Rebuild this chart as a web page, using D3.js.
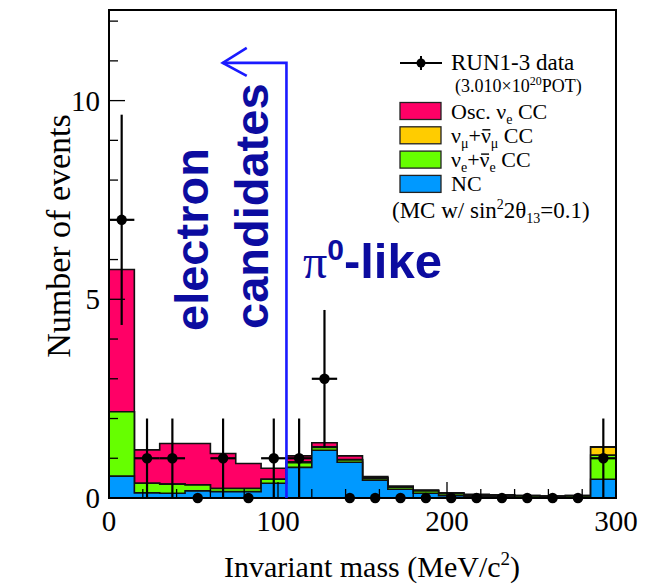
<!DOCTYPE html>
<html>
<head>
<meta charset="utf-8">
<script src="https://cdn.jsdelivr.net/npm/d3@7"></script>
<style>
  body { margin: 0; background: #fff; }
  svg { display: block; }
</style>
</head>
<body>
<svg id="chart" width="653" height="584"></svg>
<script>
// Invariant-mass bins (MeV/c^2), 15 MeV wide, last bin collects overflow
const binEdges = [0, 15, 30, 45, 60, 75, 90, 105, 120, 135, 150, 165, 180, 195, 210, 225, 240, 255, 270, 285, 300];

// Observed events per bin
const dataCounts = [7, 1, 1, 0, 1, 0, 1, 1, 3, 0, 0, 0, 0, 0, 0, 0, 0, 0, 0, 1];

// MC expectation per component (stacked bottom to top: NC, nue+nuebar CC, numu+numubar CC, oscillated nue CC)
const mcNC      = [0.55, 0.13, 0.12, 0.18, 0.16, 0.16, 0.37, 0.77, 1.20, 0.90, 0.45, 0.22, 0.12, 0.06, 0.04, 0.03, 0.02, 0.02, 0.02, 0.47];
const mcNueBeam = [1.62, 0.24, 0.23, 0.15, 0.08, 0.08, 0.10, 0.12, 0.07, 0.06, 0.05, 0.05, 0.06, 0.05, 0.03, 0.03, 0.03, 0.02, 0.03, 0.61];
const mcNumu    = [0.00, 0.00, 0.00, 0.00, 0.00, 0.00, 0.00, 0.02, 0.02, 0.01, 0.01, 0.01, 0.01, 0.01, 0.01, 0.01, 0.01, 0.01, 0.01, 0.20];
const mcOscNue  = [3.58, 0.84, 1.02, 1.04, 0.88, 0.63, 0.28, 0.15, 0.10, 0.09, 0.03, 0.02, 0.01, 0.01, 0.01, 0.01, 0.00, 0.00, 0.00, 0.01];

// Axis ticks
const yMajorTicks = [0, 5, 10];
const yMinorTicks = [1, 2, 3, 4, 6, 7, 8, 9, 11, 12];
const xMajorTicks = [0, 100, 200, 300];
const xMinorTicks = [20, 40, 60, 80, 120, 140, 160, 180, 220, 240, 260, 280];

// Selection cut and legend entries
const cutMass = 105;
const legendEntries = [
  { color: "#ff0066", parts: [["Osc. "], ["ν"], ["e", "sub"], [" CC"]] },
  { color: "#ffcc00", parts: [["ν"], ["μ", "sub"], ["+"], ["ν", "bar"], ["μ", "sub"], [" CC"]] },
  { color: "#66ff00", parts: [["ν"], ["e", "sub"], ["+"], ["ν", "bar"], ["e", "sub"], [" CC"]] },
  { color: "#0099ff", parts: [["NC"]] }
];

const svg = d3.select("#chart");
const serif = "'Liberation Serif', 'Times New Roman', serif";
const sans = "'Liberation Sans', Arial, Helvetica, sans-serif";

const x = d3.scaleLinear().domain([0, 300]).range([109, 616]);
const y = d3.scaleLinear().domain([0, 12.28]).range([498, 10]);

// Cumulative stack layers
const layers = [mcNC, mcNueBeam, mcNumu, mcOscNue];
const layerColors = ["#0099ff", "#66ff00", "#ffcc00", "#ff0066"];
const cumulative = [];
let running = binEdges.slice(1).map(() => 0);
layers.forEach(vals => {
  running = running.map((r, i) => r + vals[i]);
  cumulative.push(running.slice());
});

function stepPath(tops) {
  const p = d3.path();
  p.moveTo(x(binEdges[0]), y(0));
  tops.forEach((t, i) => {
    p.lineTo(x(binEdges[i]), y(t));
    p.lineTo(x(binEdges[i + 1]), y(t));
  });
  p.lineTo(x(binEdges[binEdges.length - 1]), y(0));
  p.closePath();
  return p.toString();
}

// Draw from the tallest cumulative layer down
const histG = svg.append("g");
for (let k = cumulative.length - 1; k >= 0; k--) {
  histG.append("path")
    .attr("d", stepPath(cumulative[k]))
    .attr("fill", layerColors[k])
    .attr("stroke", "#111")
    .attr("stroke-width", 1.6)
    .attr("stroke-linejoin", "miter");
}

// Frame and axes
const axG = svg.append("g");
axG.append("rect")
  .attr("x", x(0)).attr("y", y.range()[1])
  .attr("width", x(300) - x(0)).attr("height", y(0) - y.range()[1])
  .attr("fill", "none").attr("stroke", "#000").attr("stroke-width", 2);

yMajorTicks.forEach(v => axG.append("line").attr("x1", x(0)).attr("x2", x(0) + 16).attr("y1", y(v)).attr("y2", y(v)).attr("stroke", "#000").attr("stroke-width", 1.3));
yMinorTicks.forEach(v => axG.append("line").attr("x1", x(0)).attr("x2", x(0) + 9).attr("y1", y(v)).attr("y2", y(v)).attr("stroke", "#000").attr("stroke-width", 1.3));
xMajorTicks.forEach(v => axG.append("line").attr("x1", x(v)).attr("x2", x(v)).attr("y1", y(0)).attr("y2", y(0) - 16).attr("stroke", "#000").attr("stroke-width", 1.3));
xMinorTicks.forEach(v => axG.append("line").attr("x1", x(v)).attr("x2", x(v)).attr("y1", y(0)).attr("y2", y(0) - 9).attr("stroke", "#000").attr("stroke-width", 1.3));

yMajorTicks.forEach(v => axG.append("text")
  .attr("x", 100).attr("y", y(v) + 10)
  .attr("text-anchor", "end")
  .attr("font-family", serif).attr("font-size", 29)
  .text(v));
xMajorTicks.forEach(v => axG.append("text")
  .attr("x", x(v)).attr("y", 531)
  .attr("text-anchor", "middle")
  .attr("font-family", serif).attr("font-size", 29)
  .text(v));

// Axis titles
const xt = svg.append("text")
  .attr("x", 372).attr("y", 577)
  .attr("text-anchor", "middle")
  .attr("font-family", serif).attr("font-size", 30);
xt.append("tspan").text("Invariant mass (MeV/c");
xt.append("tspan").attr("font-size", 19).attr("dy", -12).text("2");
xt.append("tspan").attr("dy", 12).text(")");

svg.append("text")
  .attr("transform", "translate(70,236) rotate(-90)")
  .attr("text-anchor", "middle")
  .attr("font-family", serif).attr("font-size", 34)
  .text("Number of events");

// Data points with Poisson error bars
const dataG = svg.append("g");
dataCounts.forEach((n, i) => {
  const lo = binEdges[i], hi = binEdges[i + 1];
  const cx = x((lo + hi) / 2);
  if (n > 0) {
    const e = Math.sqrt(n);
    dataG.append("line").attr("x1", cx).attr("x2", cx).attr("y1", y(n - e)).attr("y2", y(n + e)).attr("stroke", "#000").attr("stroke-width", 2.2);
    dataG.append("line").attr("x1", x(lo)).attr("x2", x(hi)).attr("y1", y(n)).attr("y2", y(n)).attr("stroke", "#000").attr("stroke-width", 2.2);
  }
  dataG.append("circle").attr("cx", cx).attr("cy", y(n)).attr("r", 5.2).attr("fill", "#000");
});

// Selection cut with arrow toward the electron-candidate region
const cutG = svg.append("g").attr("stroke", "#1a1aff").attr("stroke-width", 2.6).attr("fill", "none");
const arrowY = y(10.95), tipX = x(67.3);
cutG.append("path").attr("d", `M${x(cutMass)},${y(0)} V${arrowY} H${tipX}`);
cutG.append("path").attr("d", `M${tipX + 24},${arrowY - 15} L${tipX},${arrowY} L${tipX + 24},${arrowY + 13}`);

const annColor = "#0c0ca0";
svg.append("text")
  .attr("transform", "translate(208,331) rotate(-90)")
  .attr("font-family", sans).attr("font-weight", "bold").attr("font-size", 47)
  .attr("fill", annColor)
  .text("electron");
svg.append("text")
  .attr("transform", "translate(268,329) rotate(-90)")
  .attr("font-family", sans).attr("font-weight", "bold").attr("font-size", 47)
  .attr("fill", annColor)
  .text("candidates");

const pi = svg.append("text").attr("x", 303).attr("y", 278).attr("fill", annColor);
pi.append("tspan").attr("font-family", serif).attr("font-size", 48).text("π");
pi.append("tspan").attr("font-family", sans).attr("font-weight", "bold").attr("font-size", 30).attr("dy", -18).text("0");
pi.append("tspan").attr("font-family", sans).attr("font-weight", "bold").attr("font-size", 49).attr("dy", 18).text("-like");

// Legend
const lg = svg.append("g");
lg.append("line").attr("x1", 400).attr("x2", 442).attr("y1", 63).attr("y2", 63).attr("stroke", "#000").attr("stroke-width", 2);
lg.append("line").attr("x1", 421).attr("x2", 421).attr("y1", 56).attr("y2", 70).attr("stroke", "#000").attr("stroke-width", 2);
lg.append("circle").attr("cx", 421).attr("cy", 63).attr("r", 4.5).attr("fill", "#000");
lg.append("text").attr("x", 451).attr("y", 70).attr("font-family", serif).attr("font-size", 23).text("RUN1-3 data");
const pot = lg.append("text").attr("x", 455).attr("y", 92).attr("font-family", serif).attr("font-size", 18);
pot.append("tspan").text("(3.010×10");
pot.append("tspan").attr("font-size", 12).attr("dy", -7).text("20");
pot.append("tspan").attr("dy", 7).text("POT)");

legendEntries.forEach((entry, k) => {
  const top = 102.5 + k * 24.3;
  lg.append("rect").attr("x", 400).attr("y", top).attr("width", 41).attr("height", 17)
    .attr("fill", entry.color).attr("stroke", "#222").attr("stroke-width", 1.3);
  const t = lg.append("text").attr("x", 451).attr("y", top + 16).attr("font-family", serif).attr("font-size", 22);
  let shifted = false;
  const barIdx = [];
  let charCount = 0;
  entry.parts.forEach(([s, kind]) => {
    const ts = t.append("tspan").text(s);
    if (kind === "sub") {
      ts.attr("font-size", 14).attr("dy", 5);
      shifted = true;
    } else if (shifted) {
      ts.attr("dy", -5);
      shifted = false;
    }
    if (kind === "bar") barIdx.push(charCount);
    charCount += s.length;
  });
  // overbar for antineutrinos
  barIdx.forEach(ci => {
    const ext = t.node().getExtentOfChar(ci);
    lg.append("line")
      .attr("x1", ext.x + 1.5).attr("x2", ext.x + ext.width - 0.5)
      .attr("y1", top + 3).attr("y2", top + 3)
      .attr("stroke", "#000").attr("stroke-width", 1.4);
  });
});

const mc = lg.append("text").attr("x", 392).attr("y", 218).attr("font-family", serif).attr("font-size", 23);
mc.append("tspan").text("(MC w/ sin");
mc.append("tspan").attr("font-size", 14).attr("dy", -9).text("2");
mc.append("tspan").attr("dy", 9).text("2θ");
mc.append("tspan").attr("font-size", 14).attr("dy", 5).text("13");
mc.append("tspan").attr("dy", -5).text("=0.1)");
</script>
</body>
</html>
